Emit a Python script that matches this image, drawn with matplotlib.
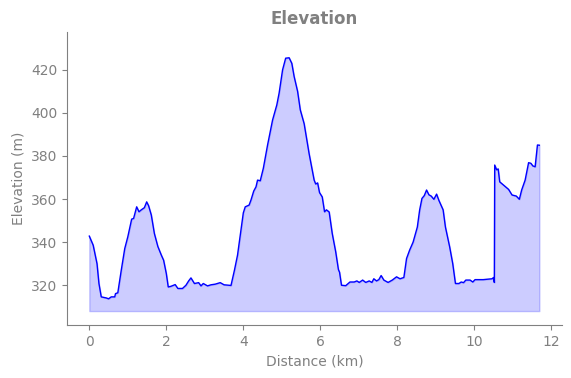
import matplotlib
matplotlib.use("Agg")
import matplotlib.pyplot as plt

# Perfil de elevação
distancia_km = [
    0.00, 0.10, 0.20, 0.25, 0.31, 0.44, 0.50, 0.57, 0.66, 0.68, 0.74, 0.83,
    0.92, 1.00, 1.10, 1.15, 1.23, 1.29, 1.35, 1.43, 1.49, 1.54, 1.61, 1.69,
    1.78, 1.87, 1.93, 2.00, 2.05, 2.12, 2.23, 2.30, 2.42, 2.51, 2.58, 2.64,
    2.73, 2.84, 2.90, 2.96, 3.07, 3.16, 3.27, 3.40, 3.50, 3.68, 3.77, 3.85,
    3.94, 4.00, 4.05, 4.15, 4.20, 4.27, 4.33, 4.37, 4.44, 4.52, 4.63, 4.76,
    4.87, 4.93, 5.02, 5.10, 5.19, 5.26, 5.32, 5.41, 5.48, 5.58, 5.71, 5.84,
    5.88, 5.93, 5.98, 6.05, 6.11, 6.16, 6.23, 6.31, 6.40, 6.47, 6.50, 6.55,
    6.66, 6.77, 6.88, 6.95, 7.01, 7.10, 7.18, 7.27, 7.34, 7.39, 7.46, 7.52,
    7.58, 7.65, 7.76, 7.87, 7.98, 8.07, 8.17, 8.24, 8.32, 8.41, 8.52, 8.58,
    8.64, 8.70, 8.76, 8.82, 8.88, 8.95, 9.02, 9.08, 9.19, 9.25, 9.36, 9.44,
    9.51, 9.60, 9.66, 9.72, 9.78, 9.89, 9.96, 10.02, 10.23, 10.46, 10.50,
    10.52, 10.53, 10.58, 10.62, 10.66, 10.76, 10.89, 10.98, 11.09, 11.17,
    11.23, 11.32, 11.41, 11.47, 11.52, 11.58, 11.64, 11.69,
]
elevacao_m = [
    342.8, 338.6, 330.0, 320.8, 314.6, 314.1, 313.7, 314.6, 314.6, 316.1, 316.5, 327.0,
    337.0, 342.5, 350.7, 351.0, 356.4, 354.1, 355.0, 356.0, 358.7, 356.9, 352.6, 344.0,
    338.0, 334.0, 331.6, 325.4, 319.2, 319.5, 320.3, 318.5, 318.5, 320.0, 322.0, 323.4,
    320.8, 321.2, 319.7, 320.8, 319.7, 320.2, 320.5, 321.2, 320.2, 319.9, 327.0, 334.0,
    345.6, 353.6, 356.4, 357.2, 359.6, 363.7, 365.7, 368.8, 368.5, 374.3, 385.1, 396.7,
    403.7, 409.2, 420.0, 425.4, 425.6, 423.0, 416.9, 410.0, 401.4, 395.0, 381.0, 368.8,
    367.0, 367.5, 363.0, 361.0, 354.1, 355.0, 354.0, 344.0, 335.5, 327.3, 326.0, 320.0,
    319.8, 321.5, 321.5, 322.0, 321.3, 322.4, 321.3, 322.0, 321.3, 323.0, 322.0, 322.6,
    324.5, 322.4, 321.3, 322.4, 323.9, 323.0, 323.6, 332.4, 336.3, 340.0, 347.0, 354.9,
    360.3, 361.6, 364.2, 362.0, 361.4, 359.9, 362.3, 359.4, 355.0, 347.0, 337.8, 330.0,
    320.8, 320.8, 321.5, 321.2, 322.4, 322.4, 321.5, 322.6, 322.6, 323.0, 323.6,
    321.3, 375.8, 373.6, 374.0, 368.0, 366.5, 364.5, 361.9, 361.4, 359.9,
    364.2, 368.8, 376.9, 376.6, 375.4, 375.0, 385.1, 385.0,
]
BASE = 308

CINZA = "gray"

fig, ax = plt.subplots(figsize=(5.71, 3.78), dpi=100)
fig.subplots_adjust(left=0.117, right=0.984, top=0.915, bottom=0.140)

ax.fill_between(distancia_km, elevacao_m, BASE, color="blue", alpha=0.2)
ax.plot(distancia_km, elevacao_m, color="blue", linewidth=1)

ax.set_title("Elevation", fontsize=12, fontweight="bold", color=CINZA)
ax.set_xlabel("Distance (km)", color=CINZA)
ax.set_ylabel("Elevation (m)", color=CINZA)
ax.set_ylim(301.5, 437.5)
ax.set_yticks([320, 340, 360, 380, 400, 420])

for lado in ("top", "right"):
    ax.spines[lado].set_visible(False)
for lado in ("left", "bottom"):
    ax.spines[lado].set_color(CINZA)
ax.tick_params(colors=CINZA)

plt.savefig("out.png", dpi=100)
plt.close()
